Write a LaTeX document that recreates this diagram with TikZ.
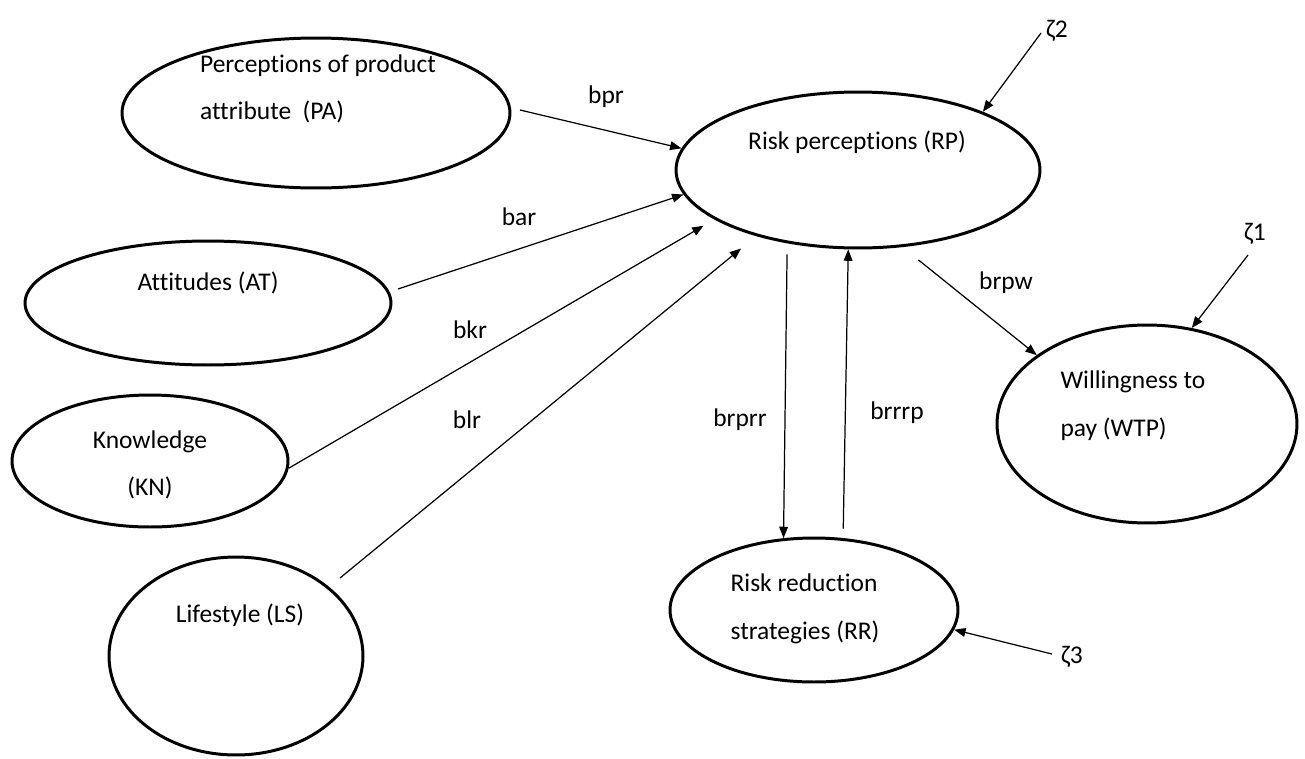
\documentclass[tikz,border=0pt]{standalone}
\usepackage{fontspec}
\setmainfont{Carlito}[Ligatures=NoCommon]
\usetikzlibrary{shapes.geometric,arrows.meta}

\begin{document}
\begin{tikzpicture}[x=0.02cm, y=-0.02cm, >={Triangle[length=6.5pt,width=5pt]},
  var/.style={draw, ellipse, line width=1.7pt, inner sep=0pt},
  txt/.style={font=\fontsize{14.5}{27.2}\selectfont, inner sep=0pt},
  arr/.style={->, line width=0.7pt}]
\useasboundingbox (0,0) rectangle (1305,758);

% latent variables
\node[var, minimum width=7.76cm, minimum height=3.0cm] (pa) at (316,113) {};
\node[var, minimum width=7.28cm, minimum height=3.12cm] (rp) at (858,170) {};
\node[var, minimum width=7.32cm, minimum height=2.48cm] (at) at (208,303) {};
\node[var, minimum width=5.52cm, minimum height=2.64cm] (kn) at (150,461) {};
\node[var, minimum width=5.08cm, minimum height=3.96cm] (ls) at (236,656) {};
\node[var, minimum width=6.00cm, minimum height=3.96cm] (wtp) at (1147,424) {};
\node[var, minimum width=5.76cm, minimum height=2.88cm] (rr) at (814,610) {};

% texts inside
\node[txt, align=left] (paText) at (318,89) {Perceptions of product\\attribute~~(PA)};
\node[txt] (rpText) at (857,142) {Risk perceptions (RP)};
\node[txt] (atText) at (208,283) {Attitudes (AT)};
\node[txt, align=center] (knText) at (150,465) {Knowledge\\(KN)};
\node[txt] (lsText) at (240,615) {Lifestyle (LS)};
\node[txt, align=left] (wtpText) at (1133,406) {Willingness to\\pay (WTP)};
\node[txt, align=left] (rrText) at (805,609) {Risk reduction\\strategies (RR)};

% free ends
\coordinate (paOut) at (520,110);
\coordinate (atOut) at (398,289);
\coordinate (lsOut) at (340,578);
\coordinate (z2Out) at (1041,33);
\coordinate (z1Out) at (1248,255);
\coordinate (z3Out) at (1052,654);

% paths
\draw[arr] (paOut) -- (rp.173);
\draw[arr] (atOut) -- (rp.188.3);
\draw[arr, shorten >=0.25cm] (kn.-3) -- (rp.199.8);
\draw[arr, shorten >=0.39cm] (lsOut) -- (rp.213.2);
\draw[arr, shorten <=0.41cm] (rp.-60) -- (wtp.148.5);
\draw[arr, shorten <=0.22cm] (rp.226) -- (rr.113);
\draw[arr, shorten <=0.19cm] (rr.68) -- (rp.263);
\draw[arr] (z2Out) -- (rp.25);
\draw[arr] (z1Out) -- (wtp.65);
\draw[arr] (z3Out) -- (rr.-8);

% coefficients
\node[txt] (bpr) at (606,97) {bpr};
\node[txt] (bar) at (519,217) {bar};
\node[txt] (bkr) at (470,330) {bkr};
\node[txt] (blr) at (467,420) {blr};
\node[txt] (brprr) at (740,420) {brprr};
\node[txt] (brrrp) at (897,413) {brrrp};
\node[txt] (brpw) at (1006,283) {brpw};
\node[txt] (z2) at (1057,31) {ζ2};
\node[txt] (z1) at (1255,234) {ζ1};
\node[txt] (z3) at (1072,657) {ζ3};
\end{tikzpicture}
\end{document}
